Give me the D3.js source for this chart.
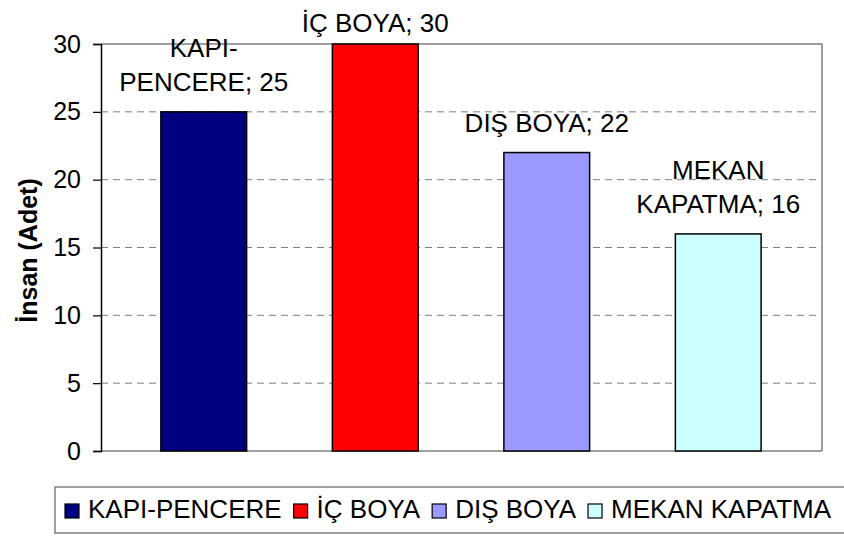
<!DOCTYPE html>
<html>
<head>
<meta charset="utf-8">
<script src="https://cdn.jsdelivr.net/npm/d3@7"></script>
<style>
  html, body { margin: 0; padding: 0; background: #fff; }
  svg { display: block; font-family: "Liberation Sans", Arial, sans-serif; }
</style>
</head>
<body>
<svg id="chart" width="844" height="536"></svg>
<script>
// Work categories and number of people for each
const categories = ["KAPI-PENCERE", "İÇ BOYA", "DIŞ BOYA", "MEKAN KAPATMA"];
const values = [25, 30, 22, 16];
const colors = ["#000080", "#FF0000", "#9999FF", "#CCFFFF"];
// Data label lines shown above each bar
const labelLines = [["KAPI-", "PENCERE; 25"], ["İÇ BOYA; 30"], ["DIŞ BOYA; 22"], ["MEKAN", "KAPATMA; 16"]];
const yTicks = [0, 5, 10, 15, 20, 25, 30];
const yTitle = "İnsan (Adet)";

const svg = d3.select("#chart");
const plot = { left: 101, right: 822, top: 44, bottom: 451 };
const fontFamily = "Liberation Sans, Arial, sans-serif";

const x = d3.scaleBand()
  .domain(categories)
  .range([118, 804])
  .paddingInner(0.5)
  .paddingOuter(0.25);

const y = d3.scaleLinear()
  .domain([0, 30])
  .range([plot.bottom, plot.top]);

// Dashed horizontal gridlines (not at 0 or top)
svg.append("g")
  .selectAll("line")
  .data(yTicks.filter(t => t > 0 && t < 30))
  .join("line")
  .attr("x1", plot.left).attr("x2", plot.right)
  .attr("y1", d => y(d)).attr("y2", d => y(d))
  .attr("stroke", "#808080")
  .attr("stroke-width", 1)
  .attr("stroke-dasharray", "7,5");

// Plot frame: top and right sides
svg.append("path")
  .attr("d", `M${plot.left},${plot.top}H${plot.right}V${plot.bottom}`)
  .attr("fill", "none")
  .attr("stroke", "#808080")
  .attr("stroke-width", 1.5);

// Bottom axis line
svg.append("line")
  .attr("x1", plot.left).attr("x2", plot.right)
  .attr("y1", plot.bottom).attr("y2", plot.bottom)
  .attr("stroke", "#808080")
  .attr("stroke-width", 1.5);

// Bars
svg.append("g")
  .selectAll("rect")
  .data(categories)
  .join("rect")
  .attr("x", d => x(d))
  .attr("width", x.bandwidth())
  .attr("y", (d, i) => y(values[i]))
  .attr("height", (d, i) => y(0) - y(values[i]))
  .attr("fill", (d, i) => colors[i])
  .attr("stroke", "#000")
  .attr("stroke-width", 1.5);

// Y axis
const yAxis = d3.axisLeft(y)
  .tickValues(yTicks)
  .tickSize(8)
  .tickPadding(12)
  .tickFormat(d3.format("d"));

const gy = svg.append("g")
  .attr("transform", `translate(${plot.left},0)`)
  .call(yAxis);
gy.select(".domain").attr("stroke", "#000").attr("stroke-width", 1.5);
gy.selectAll(".tick line").attr("stroke", "#000").attr("stroke-width", 1.2);
gy.selectAll(".tick text")
  .attr("font-family", fontFamily)
  .attr("font-size", 25)
  .attr("fill", "#000");

// Y axis title
svg.append("text")
  .attr("transform", `translate(37,${(plot.top + plot.bottom) / 2 + 3}) rotate(-90)`)
  .attr("text-anchor", "middle")
  .attr("font-size", 25)
  .attr("font-weight", "bold")
  .text(yTitle);

// Data labels above bars
const lineGap = 34;
categories.forEach((c, i) => {
  const lines = labelLines[i];
  const lastBaseline = Math.max(y(values[i]) - 21, 32);
  const t = svg.append("text")
    .attr("text-anchor", "middle")
    .attr("font-size", 26)
    .attr("fill", "#000");
  lines.forEach((ln, j) => {
    t.append("tspan")
      .attr("x", x(c) + x.bandwidth() / 2)
      .attr("y", lastBaseline - (lines.length - 1 - j) * lineGap)
      .text(ln);
  });
});

// Legend
const legend = svg.append("g");
legend.append("rect")
  .attr("x", 55).attr("y", 487)
  .attr("width", 800).attr("height", 46)
  .attr("fill", "#fff")
  .attr("stroke", "#808080")
  .attr("stroke-width", 1.5);

let lx = 65;
categories.forEach((c, i) => {
  legend.append("rect")
    .attr("x", lx).attr("y", 504)
    .attr("width", 14).attr("height", 14)
    .attr("fill", colors[i])
    .attr("stroke", "#000")
    .attr("stroke-width", 1.2);
  const t = legend.append("text")
    .attr("x", lx + 23).attr("y", 518)
    .attr("font-size", 26)
    .attr("fill", "#000")
    .text(c);
  lx += 23 + t.node().getComputedTextLength() + 12;
});
</script>
</body>
</html>
